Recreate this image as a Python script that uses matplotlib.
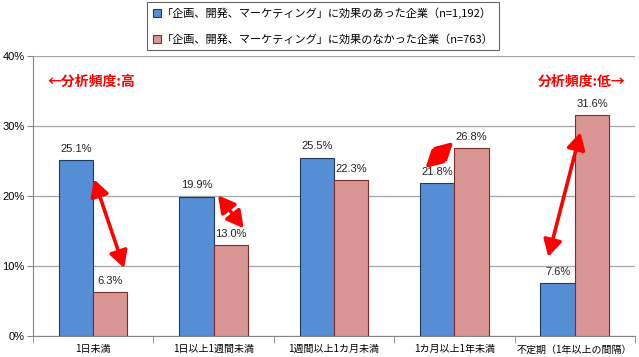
import matplotlib
matplotlib.use("Agg")
import matplotlib.pyplot as plt
import numpy as np
from matplotlib.patches import FancyArrowPatch

plt.rcParams['font.family'] = ['Noto Sans CJK JP', 'DejaVu Sans']

categories = ["1日未満", "1日以上1週間未満", "1週間以上1カ月未満", "1カ月以上1年未満", "不定期（1年以上の間隔）"]
effective = [25.1, 19.9, 25.5, 21.8, 7.6]
not_effective = [6.3, 13.0, 22.3, 26.8, 31.6]
series_names = ["「企画、開発、マーケティング」に効果のあった企業（n=1,192）",
                "「企画、開発、マーケティング」に効果のなかった企業（n=763）"]
yticks = [0, 10, 20, 30, 40]
ytick_labels = ["0%", "10%", "20%", "30%", "40%"]

# arrows: (group index, x offset tail, y tail, x offset head, y head)
arrows = [(0, 0.007, 22.4, 0.257, 9.7),
          (1, 0.037, 20.1, 0.25, 15.4),
          (3, -0.24, 24.0, -0.01, 27.7),
          (4, -0.22, 11.3, 0.047, 29.1)]

blue = "#558ED5"
blue_edge = "#1F3A63"
pink = "#D99694"
pink_edge = "#7A2E2C"

fig = plt.figure(figsize=(6.39, 3.57), dpi=100)
ax = fig.add_axes([0.0516, 0.0588, 0.9421, 0.7843])

x = np.arange(len(categories))
w = 0.285
b1 = ax.bar(x - w/2, effective, w, color=blue, edgecolor=blue_edge, linewidth=0.8, zorder=3, label=series_names[0])
b2 = ax.bar(x + w/2, not_effective, w, color=pink, edgecolor=pink_edge, linewidth=0.8, zorder=3, label=series_names[1])

for xi, v in zip(x - w/2, effective):
    ax.text(xi, v + 0.9, f"{v:.1f}%", ha="center", va="bottom", fontsize=8, color="#222222", family=['Liberation Sans', 'DejaVu Sans'])
for xi, v in zip(x + w/2, not_effective):
    ax.text(xi, v + 0.9, f"{v:.1f}%", ha="center", va="bottom", fontsize=8, color="#222222", family=['Liberation Sans', 'DejaVu Sans'])

for gi, dx1, y1, dx2, y2 in arrows:
    arr = FancyArrowPatch((gi + dx1, y1), (gi + dx2, y2), arrowstyle="<|-|>,head_length=10,head_width=5.5",
                          mutation_scale=1, color="#FF0000", linewidth=2.6, zorder=5, shrinkA=0, shrinkB=0)
    ax.add_patch(arr)

ax.set_xlim(-0.5, len(categories) - 0.5)
ax.set_ylim(0, 40)
ax.set_yticks(yticks)
ax.set_yticklabels(ytick_labels, fontsize=8, family=['Liberation Sans', 'DejaVu Sans'])
ax.yaxis.grid(True, color="#A6A6A6", linewidth=0.9, zorder=0)
ax.set_axisbelow(True)
ax.set_xticks(x)
ax.set_xticklabels(categories, fontsize=7.2)
ax.set_xticks(np.arange(-0.5, len(categories) + 0.5, 1), minor=True)
ax.tick_params(axis='x', which='major', length=0, pad=6)
ax.tick_params(axis='x', which='minor', length=5, color="#868686", direction='out')
ax.tick_params(axis='y', length=4, color="#868686", pad=2)
for s in ["top", "right"]:
    ax.spines[s].set_visible(False)
ax.spines["left"].set_color("#868686")
ax.spines["bottom"].set_color("#868686")

ax.text(-0.38, 36.3, "←分析頻度:高", color="#FF0000", fontsize=10, fontweight="bold", ha="left", va="center")
ax.text(4.42, 36.3, "分析頻度:低→", color="#FF0000", fontsize=10, fontweight="bold", ha="right", va="center")

leg = fig.legend(handles=[b1, b2], loc="upper center", bbox_to_anchor=(0.506, 0.994), fontsize=8,
                 frameon=True, fancybox=False, edgecolor="#404040", handlelength=0.7, handleheight=0.7,
                 handletextpad=0.1, borderpad=0.5, labelspacing=1.35, borderaxespad=0)
leg.get_frame().set_linewidth(0.8)

fig.savefig("out.png", dpi=100)
